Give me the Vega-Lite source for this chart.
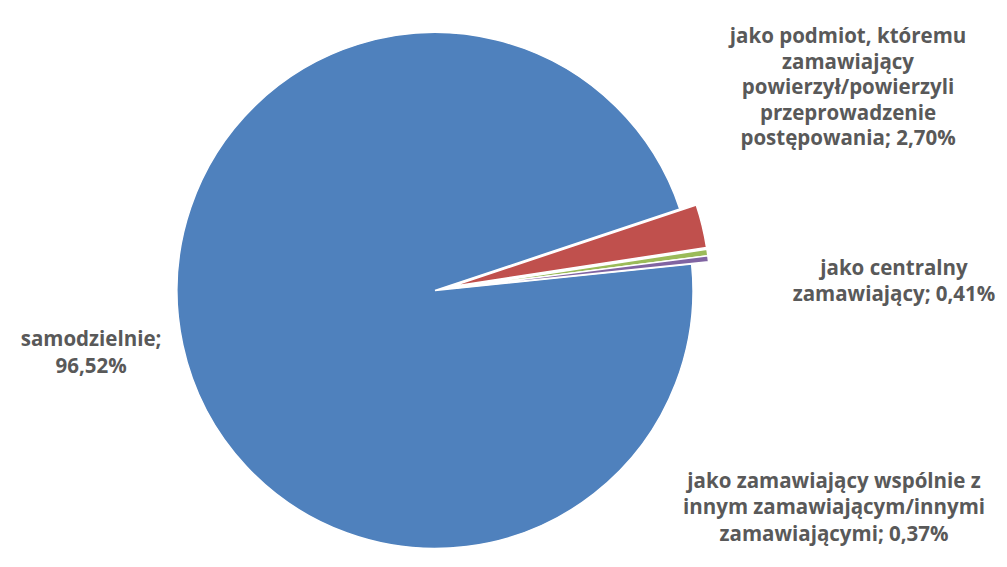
{
  "$schema": "https://vega.github.io/schema/vega-lite/v6.json",
  "width": 870,
  "height": 553,
  "padding": {"left": 0, "top": 14, "right": 137, "bottom": 0},
  "autosize": {"type": "none"},
  "background": "white",
  "config": {"view": {"stroke": null}},
  "data": {
    "values": [
      {"kategoria": "samodzielnie", "udzial": 96.52, "kolejnosc": 1, "etykieta": "samodzielnie;\n96,52%"},
      {"kategoria": "jako podmiot, któremu zamawiający powierzył/powierzyli przeprowadzenie postępowania", "udzial": 2.70, "kolejnosc": 2, "etykieta": "jako podmiot, któremu\nzamawiający\npowierzył/powierzyli\nprzeprowadzenie\npostępowania; 2,70%"},
      {"kategoria": "jako centralny zamawiający", "udzial": 0.41, "kolejnosc": 3, "etykieta": "jako centralny\nzamawiający; 0,41%"},
      {"kategoria": "jako zamawiający wspólnie z innym zamawiającym/innymi zamawiającymi", "udzial": 0.37, "kolejnosc": 4, "etykieta": "jako zamawiający wspólnie z\ninnym zamawiającym/innymi\nzamawiającymi; 0,37%"}
    ]
  },
  "transform": [
    {"stack": "udzial", "groupby": [], "sort": [{"field": "kolejnosc", "order": "ascending"}], "as": ["v0", "v1"]}
  ],
  "layer": [
    {
      "transform": [{"filter": "datum.kolejnosc == 1"}],
      "mark": {"type": "arc", "outerRadius": 258, "stroke": "white", "strokeWidth": 1.5},
      "encoding": {
        "theta": {"field": "v0", "type": "quantitative", "stack": null, "scale": {"domain": [0, 100], "range": [1.4678, 7.751]}},
        "theta2": {"field": "v1"},
        "color": {"field": "kolejnosc", "type": "nominal", "legend": null, "scale": {"domain": [1, 2, 3, 4], "range": ["#4F81BD", "#C0504D", "#9BBB59", "#8064A2"]}}
      }
    },
    {
      "transform": [{"filter": "datum.kolejnosc == 2"}],
      "mark": {"type": "arc", "outerRadius": 258, "stroke": "white", "strokeWidth": 1.5, "xOffset": 16.5, "yOffset": -4},
      "encoding": {
        "theta": {"field": "v0", "type": "quantitative", "stack": null, "scale": {"domain": [0, 100], "range": [1.4678, 7.751]}},
        "theta2": {"field": "v1"},
        "color": {"field": "kolejnosc", "type": "nominal", "legend": null, "scale": {"domain": [1, 2, 3, 4], "range": ["#4F81BD", "#C0504D", "#9BBB59", "#8064A2"]}}
      }
    },
    {
      "transform": [{"filter": "datum.kolejnosc >= 3"}],
      "mark": {"type": "arc", "outerRadius": 258, "stroke": "white", "strokeWidth": 1.5, "xOffset": 16.9, "yOffset": -2.2},
      "encoding": {
        "theta": {"field": "v0", "type": "quantitative", "stack": null, "scale": {"domain": [0, 100], "range": [1.4678, 7.751]}},
        "theta2": {"field": "v1"},
        "color": {"field": "kolejnosc", "type": "nominal", "legend": null, "scale": {"domain": [1, 2, 3, 4], "range": ["#4F81BD", "#C0504D", "#9BBB59", "#8064A2"]}}
      }
    },
    {
      "transform": [{"filter": "datum.kolejnosc == 1"}],
      "mark": {"type": "text", "radius": 347.5, "thetaOffset": 3.1016, "lineBreak": "\n", "font": "Open Sans", "fontWeight": "bold", "fontSize": 20.5, "lineHeight": 27, "color": "#595959", "align": "center", "baseline": "middle"},
      "encoding": {
        "theta": {"field": "v0", "type": "quantitative", "stack": null, "scale": {"domain": [0, 100], "range": [1.4678, 7.751]}},
        "text": {"field": "etykieta", "type": "nominal"}
      }
    },
    {
      "transform": [{"filter": "datum.kolejnosc == 2"}],
      "mark": {"type": "text", "radius": 484.6, "thetaOffset": -0.2288, "lineBreak": "\n", "font": "Open Sans", "fontWeight": "bold", "fontSize": 20.5, "lineHeight": 25.5, "color": "#595959", "align": "center", "baseline": "middle"},
      "encoding": {
        "theta": {"field": "v0", "type": "quantitative", "stack": null, "scale": {"domain": [0, 100], "range": [1.4678, 7.751]}},
        "text": {"field": "etykieta", "type": "nominal"}
      }
    },
    {
      "transform": [{"filter": "datum.kolejnosc == 3"}],
      "mark": {"type": "text", "radius": 459.5, "thetaOffset": 0.1052, "lineBreak": "\n", "font": "Open Sans", "fontWeight": "bold", "fontSize": 20.5, "lineHeight": 25.5, "color": "#595959", "align": "center", "baseline": "middle"},
      "encoding": {
        "theta": {"field": "v0", "type": "quantitative", "stack": null, "scale": {"domain": [0, 100], "range": [1.4678, 7.751]}},
        "text": {"field": "etykieta", "type": "nominal"}
      }
    },
    {
      "transform": [{"filter": "datum.kolejnosc == 4"}],
      "mark": {"type": "text", "radius": 442.6, "thetaOffset": 0.5735, "lineBreak": "\n", "font": "Open Sans", "fontWeight": "bold", "fontSize": 20.5, "lineHeight": 26.5, "color": "#595959", "align": "center", "baseline": "middle"},
      "encoding": {
        "theta": {"field": "v0", "type": "quantitative", "stack": null, "scale": {"domain": [0, 100], "range": [1.4678, 7.751]}},
        "text": {"field": "etykieta", "type": "nominal"}
      }
    }
  ]
}
